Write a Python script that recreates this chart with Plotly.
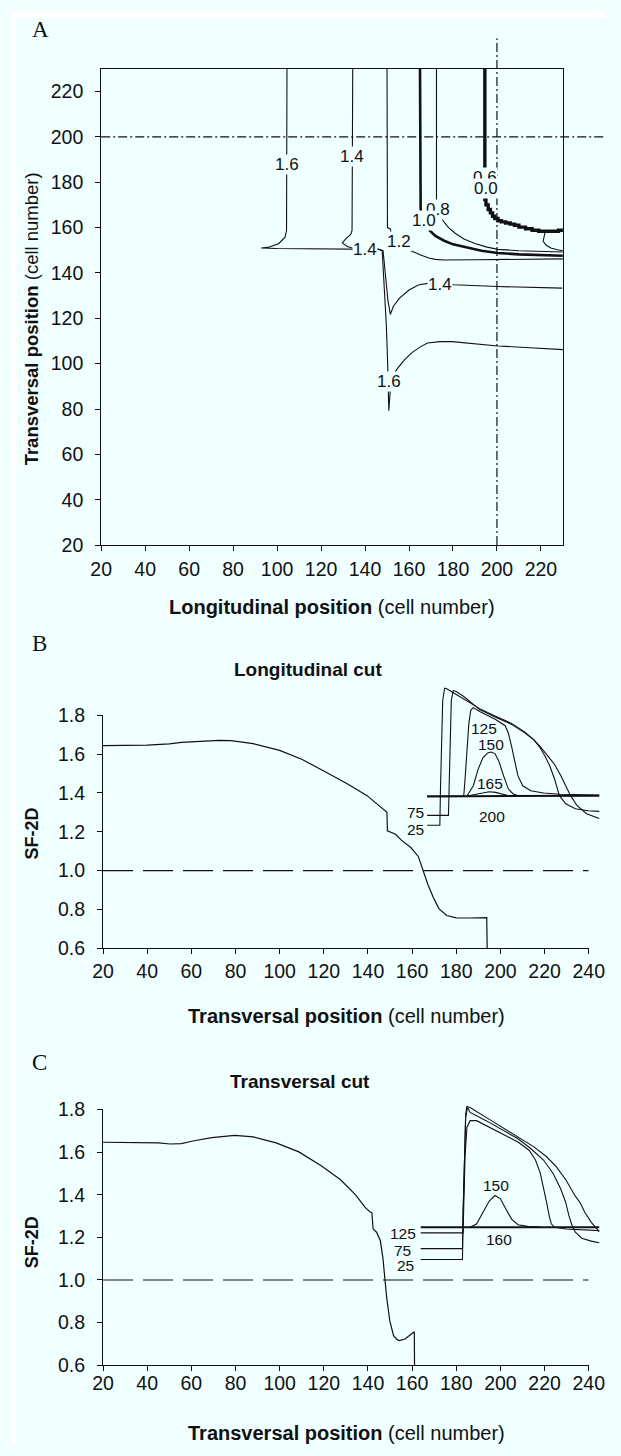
import plotly.graph_objects as go

W, H = 621, 1456
BG = "#F0FFFF"
INK = "#111111"
SANS = "Liberation Sans, Arial, Helvetica, sans-serif"
SERIF = "Liberation Serif, Times New Roman, serif"

# ---------------- Panel A : SF-2D contour lines (cell numbers) ----------------
a16_x = [104.5, 104.5, 104.3, 103.6, 100.7, 96.4, 92.8, 100.0, 134.8, 146.0, 147.8, 148.7, 149.7,
         150.3, 150.8, 151.3, 152.2, 154.7, 158.0, 161.5, 165.0, 168.4, 174.0, 179.6, 190.0, 200.4,
         215.0, 230.0]
a16_y = [230, 160, 158.7, 155.8, 152.9, 151.4, 151.0, 150.75, 150.5, 150.4, 149.8, 135.0, 116.7,
         100.0, 79.3, 86.0, 94.0, 97.8, 101.8, 105.0, 107.3, 109.1, 109.7, 109.7, 108.8, 107.8,
         107.0, 106.2]
a14_x = [134.4, 134.4, 134.1, 133.5, 131.2, 129.7, 131.9, 134.8, 146.0, 148.2, 149.3, 150.4, 151.5,
         152.9, 155.8, 160.2, 164.5, 169.6, 180.4, 200.4, 229.7]
a14_y = [230, 161, 158.7, 157.0, 155.0, 153.2, 151.7, 150.8, 150.5, 149.8, 140.0, 128.0, 121.7,
         125.3, 129.0, 132.6, 134.8, 135.5, 134.8, 134.0, 133.3]
a12_x = [150.0, 150.0, 150.2, 151.5, 152.0, 153.0, 155.5, 159.5, 161.0, 163.0, 165.0, 167.0, 169.0,
         172.0, 176.0, 190.0, 200.0, 230.0]
a12_y = [230, 162.0, 160.0, 159.4, 157.0, 155.5, 154.0, 150.2, 149.5, 148.9, 148.0, 147.2, 146.6,
         146.0, 145.7, 145.8, 145.9, 146.2]
a10_x = [165.0, 165.0, 165.3, 166.7, 169.5, 172.0, 176.0, 180.0, 186.0, 193.0, 200.4, 210.0, 230.0]
a10_y = [230, 171.0, 168.0, 163.0, 158.6, 156.3, 154.2, 152.6, 151.2, 149.8, 148.8, 148.2, 147.6]
a08_x = [172.5, 172.5, 173.2, 175.5, 178.0, 181.0, 185.0, 190.0, 195.0, 200.4, 210.0, 230.0]
a08_y = [230, 172.4, 168.1, 163.0, 160.0, 157.5, 155.0, 153.0, 151.5, 150.4, 149.8, 149.2]
a06_x = [194.5, 194.5, 195.0, 196.0, 197.0, 198.0, 199.0, 200.5, 202.0, 204.0, 206.0, 208.0, 210.0,
         213.0, 216.0, 219.0, 222.0, 225.0, 228.0, 230.0]
a06_y = [230, 172.4, 170.0, 168.0, 166.5, 165.0, 164.0, 163.0, 162.5, 162.0, 161.5, 161.0, 160.2,
         159.5, 158.8, 158.4, 158.4, 158.4, 158.8, 159.2]
a_loop_x = [222.0, 221.3, 221.0, 222.3, 224.5, 227.5, 230.0]
a_loop_y = [158.4, 156.0, 154.0, 152.3, 151.0, 150.2, 149.8]

a_lab_text = ["1.6", "1.4", "1.4", "1.2", "0.8", "1.0", "0.6", "0.0", "1.4", "1.6"]
a_lab_x = [104.5, 134.2, 139.9, 155.5, 173.4, 166.7, 194.4, 195.0, 173.9, 150.8]
a_lab_y = [187.7, 191.5, 150.4, 154.0, 168.1, 163.3, 182.3, 177.3, 134.8, 92.0]

a_ticks = [20, 40, 60, 80, 100, 120, 140, 160, 180, 200, 220]
a_cut_long = 200   # longitudinal cut position
a_cut_trans = 200  # transversal cut position

# ---------------- Panel B : longitudinal cut ----------------
b_x = [20, 30, 40, 50, 55.5, 64.1, 72.7, 78, 88, 100, 110, 120, 131, 139.6, 144.8, 148.2, 148.6,
       148.8, 150, 152.5, 155, 159.4, 162.8, 163.8, 165.4, 167.1, 169.6, 172.2, 175.7, 180, 186,
       193.8, 194.0]
b_y = [1.643, 1.643, 1.646, 1.652, 1.660, 1.665, 1.670, 1.669, 1.654, 1.619, 1.573, 1.513, 1.445,
       1.386, 1.335, 1.305, 1.300, 1.205, 1.200, 1.187, 1.158, 1.119, 1.073, 1.040, 0.997, 0.930,
       0.862, 0.803, 0.769, 0.757, 0.756, 0.758, 0.600]

# inset B: action potentials (arbitrary time / potential units)
bi_base_t = [165, 705]
bi_base_v = [127.5, 130]
bi25_t = [165, 205, 207, 210, 214, 220, 228, 250, 280, 310, 330, 380, 430, 470, 500, 520, 535, 550,
          565, 580, 600, 630, 670, 705]
bi25_v = [40, 40, 150, 300, 420, 457, 455, 442, 425, 408, 395, 372, 350, 325, 300, 275, 250, 220,
          180, 130, 105, 90, 84, 82]
bi75_t = [165, 232, 234, 237, 241, 247, 255, 280, 310, 330, 380, 430, 470, 500, 520, 540, 565, 585,
          600, 615, 635, 665, 705]
bi75_v = [70, 70, 150, 300, 420, 450, 448, 432, 408, 392, 369, 347, 322, 300, 279, 255, 225, 190,
          160, 130, 100, 75, 60]
bi125_t = [165, 280, 284, 290, 296, 302, 310, 330, 380, 410, 420, 430, 440, 450, 465, 490, 530, 580,
           705]
bi125_v = [129, 129, 180, 270, 350, 390, 398, 386, 362, 343, 320, 280, 230, 190, 160, 145, 138, 134,
           132]
bi150_t = [290, 310, 325, 340, 355, 365, 378, 390, 405, 420, 435, 450, 470]
bi150_v = [129, 160, 210, 245, 260, 263, 258, 235, 190, 150, 135, 130, 129]
bi165_t = [290, 315, 340, 360, 380, 400, 425]
bi165_v = [129, 134, 140, 142, 140, 135, 129]
bi_lab_text = ["125", "150", "165", "200", "75", "25"]
bi_lab_t = [342, 365, 362, 370, 130, 130]
bi_lab_v = [335, 285, 168, 65, 78, 28]

# ---------------- Panel C : transversal cut ----------------
c_x = [20, 30, 40, 45.2, 50.4, 55.5, 60.7, 69.3, 79.6, 88.1, 98.4, 108.7, 119, 127.6, 134.5, 138.8,
       141.0, 141.8, 142.3, 143.9, 145.6, 146.8, 147.7, 148.5, 149.9, 151.6, 153.2, 154.2, 156.8,
       161.0, 161.1]
c_y = [1.646, 1.646, 1.646, 1.643, 1.638, 1.640, 1.652, 1.668, 1.678, 1.671, 1.643, 1.601, 1.535,
       1.470, 1.398, 1.339, 1.319, 1.316, 1.240, 1.224, 1.185, 1.101, 1.001, 0.916, 0.808, 0.739,
       0.720, 0.716, 0.723, 0.757, 0.600]

# inset C: action potentials (arbitrary time / potential units)
ci_base_t = [145, 705]
ci_base_v = [135, 135]
ci125_t = [145, 278, 280, 284, 290, 300, 320, 350, 400, 450, 485, 505, 520, 532, 540, 548, 555, 565,
           600, 705]
ci125_v = [118, 118, 200, 350, 440, 460, 460, 445, 420, 395, 370, 340, 300, 250, 210, 170, 145, 135,
           130, 125]
ci75_t = [145, 276, 278, 282, 286, 292, 300, 350, 400, 450, 490, 530, 560, 585, 600, 610, 620, 630,
          650, 680, 705]
ci75_v = [70, 70, 180, 350, 470, 500, 485, 460, 432, 405, 375, 340, 300, 250, 210, 170, 140, 120,
          102, 93, 88]
ci25_t = [145, 276, 278, 282, 286, 290, 300, 350, 400, 450, 500, 540, 570, 600, 630, 645, 660, 680,
          700, 705]
ci25_v = [37, 37, 180, 350, 480, 503, 500, 470, 440, 412, 380, 350, 320, 280, 230, 210, 180, 150,
          130, 122]
ci150_t = [300, 320, 340, 360, 378, 395, 410, 430, 450, 480, 520]
ci150_v = [135, 145, 180, 215, 232, 222, 195, 160, 143, 138, 136]
ci_lab_text = ["125", "75", "25", "150", "160"]
ci_lab_t = [88, 88, 98, 380, 390]
ci_lab_v = [115, 63, 18, 262, 97]

bc_xticks = [20, 40, 60, 80, 100, 120, 140, 160, 180, 200, 220, 240]
bc_yticks = [0.6, 0.8, 1.0, 1.2, 1.4, 1.6, 1.8]
threshold = 1.0


# ---------------- helpers (window pixel -> paper fraction) ----------------
def fx(p):
    return p / W


def fy(p):
    return 1 - p / H


fig = go.Figure()


def line(x, y, xa, ya, width=1.1, shape="linear"):
    fig.add_trace(go.Scatter(x=x, y=y, xaxis=xa, yaxis=ya, mode="lines",
                             line=dict(color=INK, width=width, shape=shape),
                             hoverinfo="skip", showlegend=False))


# panel A
line(a16_x, a16_y, "x", "y")
line(a14_x, a14_y, "x", "y")
line(a12_x, a12_y, "x", "y")
line(a08_x, a08_y, "x", "y")
line(a10_x, a10_y, "x", "y", width=2.6)
line(a06_x, a06_y, "x", "y", width=3.4, shape="hv")
line(a_loop_x, a_loop_y, "x", "y")

# panel B
line(b_x, b_y, "x2", "y2", width=1.2)
line(bi_base_t, bi_base_v, "x4", "y4", width=2.0)
for t, v in [(bi25_t, bi25_v), (bi75_t, bi75_v), (bi125_t, bi125_v), (bi150_t, bi150_v),
             (bi165_t, bi165_v)]:
    line(t, v, "x4", "y4", width=1.1)

# panel C
line(c_x, c_y, "x3", "y3", width=1.2)
line(ci_base_t, ci_base_v, "x5", "y5", width=2.0)
for t, v in [(ci125_t, ci125_v), (ci75_t, ci75_v), (ci25_t, ci25_v), (ci150_t, ci150_v)]:
    line(t, v, "x5", "y5", width=1.1)

axis_style = dict(showline=True, linecolor=INK, linewidth=1, ticks="outside", ticklen=5,
                  tickwidth=1, tickcolor=INK, showgrid=False, zeroline=False,
                  tickfont=dict(family=SANS, size=19.5, color=INK))

layout_axes = dict(
    xaxis=dict(domain=[fx(94.3), fx(577)], range=[20, 230], tickvals=a_ticks, mirror=True,
               anchor="y", ticklabelstandoff=1, **axis_style),
    yaxis=dict(domain=[fy(542.3), fy(58.7)], range=[20, 230], tickvals=a_ticks, mirror=True,
               anchor="x", ticklabelstandoff=8, **axis_style),
    xaxis2=dict(domain=[fx(96.2), fx(604)], range=[20, 240], tickvals=bc_xticks, anchor="y2",
                ticklabelstandoff=0, **axis_style),
    yaxis2=dict(domain=[fy(951.7), fy(715)], range=[0.6, 1.8], tickvals=bc_yticks,
                tickformat=".1f", anchor="x2", ticklabelstandoff=8, **axis_style),
    xaxis3=dict(domain=[fx(96.2), fx(604)], range=[20, 240], tickvals=bc_xticks, anchor="y3",
                ticklabelstandoff=-5, **axis_style),
    yaxis3=dict(domain=[fy(1375), fy(1115.3)], range=[0.6, 1.8], tickvals=bc_yticks,
                tickformat=".1f", anchor="x3", ticklabelstandoff=8, **axis_style),
    xaxis4=dict(domain=[fx(410), fx(620)], range=[90, 720], visible=False, anchor="y4"),
    yaxis4=dict(domain=[fy(835), fy(680)], range=[15, 480], visible=False, anchor="x4"),
    xaxis5=dict(domain=[fx(400), fx(620)], range=[60, 720], visible=False, anchor="y5"),
    yaxis5=dict(domain=[fy(1290), fy(1095)], range=[-30, 555], visible=False, anchor="x5"),
)

annotations = []


def ptext(text, xp, yp, size=20, family=SANS, angle=0):
    annotations.append(dict(text=text, x=fx(xp), y=fy(yp), xref="paper", yref="paper",
                            xanchor="center", yanchor="middle", showarrow=False,
                            textangle=angle, font=dict(family=family, size=size, color=INK)))


ptext("A", 31, 19, size=23, family=SERIF)
ptext("B", 30, 642.5, size=23, family=SERIF)
ptext("C", 30, 1067.5, size=23, family=SERIF)
ptext("<b>Longitudinal position</b> (cell number)", 335.5, 605)
ptext("<b>Transversal position</b> (cell number)", 21, 313, size=18.5, angle=-90)
ptext("<b>Longitudinal cut</b>", 311, 669, size=19)
ptext("<b>SF-2D</b>", 22, 835, size=18, angle=-90)
ptext("<b>Transversal position</b> (cell number)", 350.5, 1020)
ptext("<b>Transversal cut</b>", 302, 1087, size=19)
ptext("<b>SF-2D</b>", 22, 1250, size=18, angle=-90)
ptext("<b>Transversal position</b> (cell number)", 350.5, 1444)

for txt, x, y in zip(a_lab_text, a_lab_x, a_lab_y):
    annotations.append(dict(text=txt, x=x, y=y, xref="x", yref="y", showarrow=False,
                            bgcolor=BG, borderpad=0,
                            font=dict(family=SANS, size=17, color=INK)))
for txt, x, y in zip(bi_lab_text, bi_lab_t, bi_lab_v):
    annotations.append(dict(text=txt, x=x, y=y, xref="x4", yref="y4", showarrow=False,
                            font=dict(family=SANS, size=15.5, color=INK)))
for txt, x, y in zip(ci_lab_text, ci_lab_t, ci_lab_v):
    annotations.append(dict(text=txt, x=x, y=y, xref="x5", yref="y5", showarrow=False,
                            font=dict(family=SANS, size=15.5, color=INK)))

shapes = [
    # thin white page border of the original figure (top and left)
    dict(type="rect", xref="paper", yref="paper", x0=0, x1=fx(6), y0=0, y1=1,
         fillcolor="white", line=dict(width=0), layer="below"),
    dict(type="rect", xref="paper", yref="paper", x0=0, x1=1, y0=fy(7), y1=1,
         fillcolor="white", line=dict(width=0), layer="below"),
    dict(type="line", xref="x", yref="paper", x0=a_cut_long, x1=a_cut_long,
         y0=fy(542.3), y1=fy(27.7), line=dict(color=INK, width=1.2, dash="9px,3px,2px,3px")),
    dict(type="line", xref="paper", yref="y", x0=fx(94.3), x1=1, y0=a_cut_trans,
         y1=a_cut_trans, line=dict(color=INK, width=1.2, dash="9px,3px,2px,3px")),
    dict(type="line", xref="x2", yref="y2", x0=20, x1=240, y0=threshold, y1=threshold,
         line=dict(color=INK, width=1.1, dash="30px,10px")),
    dict(type="line", xref="x3", yref="y3", x0=20, x1=240, y0=threshold, y1=threshold,
         line=dict(color=INK, width=1.1, dash="30px,10px")),
]

fig.update_layout(
    width=W, height=H, margin=dict(l=0, r=0, t=0, b=0),
    paper_bgcolor=BG, plot_bgcolor="rgba(0,0,0,0)",
    showlegend=False, annotations=annotations, shapes=shapes,
    font=dict(family=SANS, color=INK), hovermode=False,
    **layout_axes,
)

# place the figure flush with the window (no default 8 px page margin, no scrollbars)
page_fix = ("document.body.style.margin='0px';"
            "document.body.style.overflow='hidden';"
            "document.documentElement.style.overflow='hidden';")

fig.write_html("out.html", post_script=page_fix,
               config={"displayModeBar": False, "staticPlot": True})
